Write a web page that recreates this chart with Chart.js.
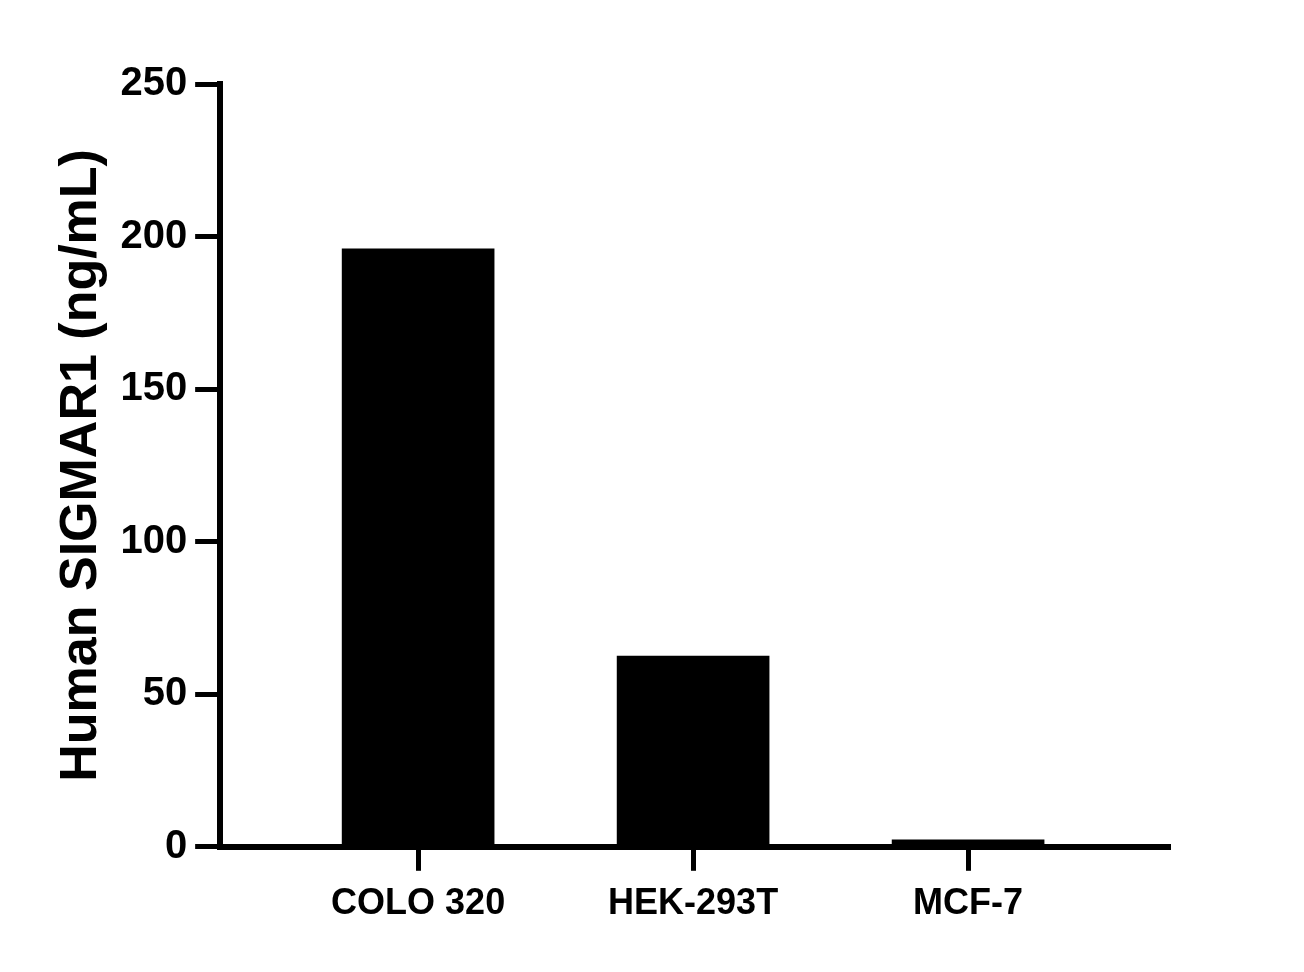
<!DOCTYPE html>
<html>
<head>
<meta charset="utf-8">
<script src="https://cdn.jsdelivr.net/npm/chart.js@4"></script>
<style>
  body { margin: 0; background: #fff; }
</style>
</head>
<body>
<canvas id="chart" width="1304" height="972"></canvas>
<script>
// data
const cellLines = ["COLO 320", "HEK-293T", "MCF-7"];
const sigmar1 = [196, 62.5, 2.3];
const yTicks = [0, 50, 100, 150, 200, 250];

const font = "'Liberation Sans', Arial, sans-serif";

new Chart(document.getElementById("chart"), {
  type: "bar",
  data: {
    datasets: [{
      data: sigmar1.map((v, i) => ({ x: i, y: v })),
      backgroundColor: "#000",
      barThickness: 152
    }]
  },
  options: {
    responsive: false,
    animation: false,
    layout: { padding: { top: 84, right: 136, bottom: 34, left: 46 } },
    plugins: { legend: { display: false }, tooltip: { enabled: false } },
    scales: {
      x: {
        type: "linear",
        offset: false,
        min: -0.72,
        max: 2.727,
        afterBuildTicks: ax => { ax.ticks = cellLines.map((_, i) => ({ value: i })); },
        ticks: {
          callback: v => cellLines[v],
          color: "#000",
          font: { family: font, size: 36, weight: "bold" },
          padding: 12,
          maxRotation: 0
        },
        grid: { offset: false, drawOnChartArea: false, color: "#000", lineWidth: 5, tickLength: 24 },
        border: { color: "#000", width: 6 }
      },
      y: {
        min: 0,
        max: 250,
        afterBuildTicks: ax => { ax.ticks = yTicks.map(v => ({ value: v })); },
        ticks: {
          color: "#000",
          font: { family: font, size: 40, weight: "bold" },
          padding: 8
        },
        grid: { drawOnChartArea: false, color: "#000", lineWidth: 5, tickLength: 25 },
        border: { color: "#000", width: 6 },
        title: {
          display: true,
          text: "Human SIGMAR1 (ng/mL)",
          color: "#000",
          font: { family: font, size: 52, weight: "bold" },
          padding: { bottom: 0 }
        }
      }
    }
  }
});
</script>
</body>
</html>
